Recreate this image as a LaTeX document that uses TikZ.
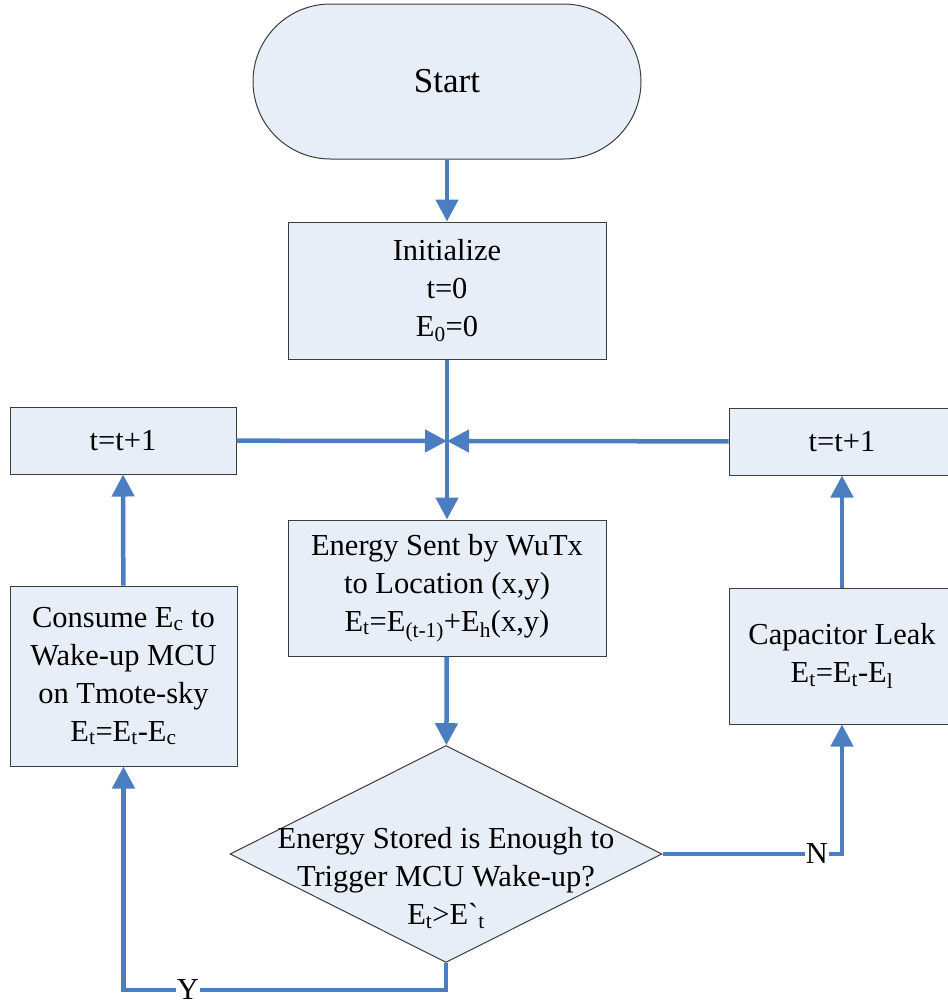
\documentclass[tikz,border=0pt]{standalone}
\usepackage{fontspec}
\setmainfont{Liberation Serif}
\usetikzlibrary{shapes.geometric, shapes.misc, arrows.meta, positioning}
\definecolor{boxfill}{RGB}{232, 238, 247}
\definecolor{flowblue}{RGB}{74, 126, 192}
\definecolor{boxline}{RGB}{60, 60, 60}

\begin{document}
\begin{tikzpicture}[x=1pt, y=-1pt,
    box/.style={rectangle, draw=boxline, fill=boxfill, line width=1pt, align=center, inner sep=0pt, font=\fontsize{30.5}{38}\selectfont},
    flow/.style={line width=4.5pt, draw=flowblue, -{Triangle[length=22pt, width=22pt]}},
    lbl/.style={fill=white, inner sep=1pt, font=\fontsize{30.5}{38}\selectfont}]
    \useasboundingbox (0,0) rectangle (948,1005);

    % main column
    \node[box, rounded rectangle, minimum width=388, minimum height=155, font=\fontsize{35}{42}\selectfont] (start) at (447,81.5) {Start};
    \node[box, minimum width=318, minimum height=137] (init) at (447,290.5) {Initialize\\t=0\\E\textsubscript{0}=0};
    \coordinate (join) at (447,441);
    \node[box, minimum width=318, minimum height=136] (sent) at (447,588) {Energy Sent by WuTx\\to Location (x,y)\\E\textsubscript{t}=E\textsubscript{(t-1)}+E\textsubscript{h}(x,y)};
    \node[box, diamond, minimum width=432, minimum height=217] (check) at (446,854) {};
    \node[align=center, font=\fontsize{30.5}{38}\selectfont] (checktext) at (446,878) {Energy Stored is Enough to\\Trigger MCU Wake-up?\\E\textsubscript{t}>E\textasciigrave\textsubscript{t}};

    % side columns
    \node[box, minimum width=226, minimum height=67] (incleft) at (123,440.5) {t=t+1};
    \node[box, minimum width=227, minimum height=180] (consume) at (123.5,676) {Consume E\textsubscript{c} to\\Wake-up MCU\\on Tmote-sky\\E\textsubscript{t}=E\textsubscript{t}-E\textsubscript{c}};
    \node[box, minimum width=226, minimum height=67] (incright) at (842,441.5) {t=t+1};
    \node[box, minimum width=226, minimum height=136] (leak) at (842,656) {Capacitor Leak\\E\textsubscript{t}=E\textsubscript{t}-E\textsubscript{l}};
    \coordinate (ybend) at (123.5,990);

    \draw[flow] (start) -- (init);
    \draw[flow, -] (init) -- (join);
    \draw[flow] (join) -- (sent);
    \draw[flow] (incleft) -- (join);
    \draw[flow] (incright) -- (join);
    \draw[flow] (sent) -- (check);
    \draw[flow] (check.south) |- node[lbl, pos=0.9] {Y} (ybend) -- (consume.south);
    \draw[flow] (check.east) -| node[lbl, pos=0.43] {N} (leak.south);
    \draw[flow] (consume) -- (incleft);
    \draw[flow] (leak) -- (incright);
\end{tikzpicture}
\end{document}
